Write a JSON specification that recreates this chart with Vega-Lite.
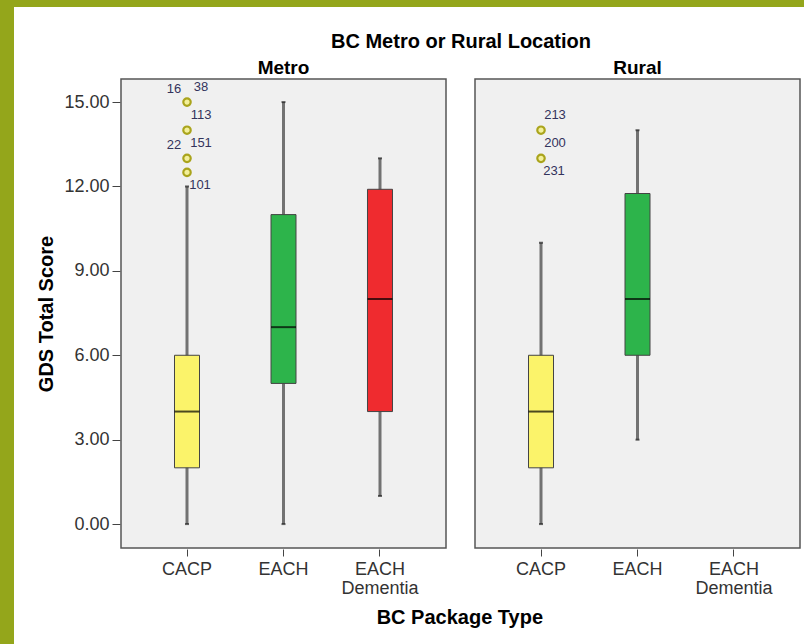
{
  "$schema": "https://vega.github.io/schema/vega-lite/v6.json",
  "background": "white",
  "padding": 0,
  "spacing": 0,
  "config": {
    "font": "Liberation Sans",
    "view": {"fill": "#f0f0f0", "stroke": "#555555", "strokeWidth": 1.5},
    "axis": {"grid": false, "domain": false, "labelFont": "Liberation Sans", "labelFontSize": 18, "labelColor": "#333333", "tickColor": "#444444", "tickSize": 8, "titleFont": "Liberation Sans", "titleFontSize": 20, "titleFontWeight": "bold", "titleColor": "#000000"}
  },
  "hconcat": [
    {"width": 14, "height": 644, "data": {"values": []}, "mark": "point", "encoding": {}, "view": {"fill": "#94a61b", "stroke": null}},
    {
      "spacing": 25,
      "vconcat": [
        {"width": 790, "height": 7, "data": {"values": []}, "mark": "point", "encoding": {}, "view": {"fill": "#94a61b", "stroke": null}},
        {
          "spacing": 21,
          "hconcat": [
            {"width": 1, "height": 1, "data": {"values": []}, "mark": "point", "encoding": {}, "view": {"fill": "#ffffff", "stroke": null}},
            {
              "data": {"values": [
                {"loc": "Metro", "pkg": "CACP", "lower": 0, "q1": 2, "median": 4, "q3": 6, "upper": 12},
                {"loc": "Metro", "pkg": "EACH", "lower": 0, "q1": 5, "median": 7, "q3": 11, "upper": 15},
                {"loc": "Metro", "pkg": "EACH Dementia", "lower": 1, "q1": 4, "median": 8, "q3": 11.9, "upper": 13},
                {"loc": "Rural", "pkg": "CACP", "lower": 0, "q1": 2, "median": 4, "q3": 6, "upper": 10},
                {"loc": "Rural", "pkg": "EACH", "lower": 3, "q1": 6, "median": 8, "q3": 11.75, "upper": 14},
                {"loc": "Metro", "pkg": "CACP", "outlier": 15},
                {"loc": "Metro", "pkg": "CACP", "outlier": 14},
                {"loc": "Metro", "pkg": "CACP", "outlier": 13},
                {"loc": "Metro", "pkg": "CACP", "outlier": 12.5},
                {"loc": "Rural", "pkg": "CACP", "outlier": 14},
                {"loc": "Rural", "pkg": "CACP", "outlier": 13},
                {"loc": "Metro", "pkg": "CACP", "at": 15, "case": "16", "side": "la"},
                {"loc": "Metro", "pkg": "CACP", "at": 15, "case": "38", "side": "ra"},
                {"loc": "Metro", "pkg": "CACP", "at": 14, "case": "113", "side": "ra"},
                {"loc": "Metro", "pkg": "CACP", "at": 13, "case": "22", "side": "la"},
                {"loc": "Metro", "pkg": "CACP", "at": 13, "case": "151", "side": "ra"},
                {"loc": "Metro", "pkg": "CACP", "at": 12.5, "case": "101", "side": "rb"},
                {"loc": "Rural", "pkg": "CACP", "at": 14, "case": "213", "side": "ra"},
                {"loc": "Rural", "pkg": "CACP", "at": 13, "case": "200", "side": "ra"},
                {"loc": "Rural", "pkg": "CACP", "at": 13, "case": "231", "side": "rb"}
              ]},
              "title": {"text": "BC Package Type", "orient": "bottom", "anchor": "middle", "frame": "bounds", "dx": 41, "font": "Liberation Sans", "fontSize": 20, "fontWeight": "bold", "color": "#000000", "offset": 11},
              "facet": {
                "column": {
                  "field": "loc", "type": "nominal",
                  "header": {
                    "title": "BC Metro or Rural Location",
                    "titleFont": "Liberation Sans", "titleFontSize": 20, "titleFontWeight": "bold", "titleColor": "#000000", "titlePadding": -3,
                    "labelFont": "Liberation Sans", "labelFontSize": 19, "labelFontWeight": "bold", "labelColor": "#000000", "labelPadding": 0
                  }
                }
              },
              "spacing": 27,
              "spec": {
                "width": 325,
                "height": 469,
                "layer": [
                  {
                    "transform": [{"filter": "isValid(datum.upper)"}],
                    "mark": {"type": "rule", "color": "#727272", "strokeWidth": 3},
                    "encoding": {
                      "x": {"field": "pkg", "type": "nominal", "scale": {"type": "band", "paddingInner": 0, "paddingOuter": 0.184}, "axis": {"title": null, "labelExpr": "split(datum.label, ' ')", "labelLineHeight": 19, "labelPadding": 4, "tickSize": 7, "labelAngle": 0}},
                      "y": {"field": "lower", "type": "quantitative", "title": "GDS Total Score", "scale": {"domain": [-0.85, 15.82], "nice": false, "zero": false}, "axis": {"values": [0, 3, 6, 9, 12, 15], "format": ".2f", "titlePadding": 7, "labelPadding": 3}},
                      "y2": {"field": "upper"}
                    }
                  },
                  {
                    "transform": [{"filter": "isValid(datum.upper)"}],
                    "mark": {"type": "tick", "size": 4, "thickness": 2, "color": "#222222"},
                    "encoding": {
                      "x": {"field": "pkg", "type": "nominal"},
                      "y": {"field": "upper", "type": "quantitative", "title": "GDS Total Score"}
                    }
                  },
                  {
                    "transform": [{"filter": "isValid(datum.upper)"}],
                    "mark": {"type": "tick", "size": 4, "thickness": 2, "color": "#222222"},
                    "encoding": {
                      "x": {"field": "pkg", "type": "nominal"},
                      "y": {"field": "lower", "type": "quantitative", "title": "GDS Total Score"}
                    }
                  },
                  {
                    "transform": [{"filter": "isValid(datum.upper)"}],
                    "mark": {"type": "bar", "size": 25, "stroke": "#444444", "strokeWidth": 1},
                    "encoding": {
                      "x": {"field": "pkg", "type": "nominal"},
                      "y": {"field": "q1", "type": "quantitative", "title": "GDS Total Score"},
                      "y2": {"field": "q3"},
                      "color": {"field": "pkg", "type": "nominal", "scale": {"domain": ["CACP", "EACH", "EACH Dementia"], "range": ["#fbf36a", "#2db44b", "#ef2b2f"]}, "legend": null}
                    }
                  },
                  {
                    "transform": [{"filter": "isValid(datum.upper)"}],
                    "mark": {"type": "tick", "size": 25, "thickness": 2, "color": "#000000"},
                    "encoding": {
                      "x": {"field": "pkg", "type": "nominal"},
                      "y": {"field": "median", "type": "quantitative", "title": "GDS Total Score"}
                    }
                  },
                  {
                    "transform": [{"filter": "isValid(datum.outlier)"}],
                    "mark": {"type": "point", "shape": "circle", "size": 55, "filled": true, "fill": "#f3f09a", "stroke": "#aaa41c", "strokeWidth": 2.2, "opacity": 1},
                    "encoding": {
                      "x": {"field": "pkg", "type": "nominal"},
                      "y": {"field": "outlier", "type": "quantitative", "title": "GDS Total Score"}
                    }
                  },
                  {
                    "transform": [{"filter": "datum.side == 'la'"}],
                    "mark": {"type": "text", "dx": -13, "dy": -13, "fontSize": 13, "color": "#33335c"},
                    "encoding": {
                      "x": {"field": "pkg", "type": "nominal"},
                      "y": {"field": "at", "type": "quantitative", "title": "GDS Total Score"},
                      "text": {"field": "case"}
                    }
                  },
                  {
                    "transform": [{"filter": "datum.side == 'ra'"}],
                    "mark": {"type": "text", "dx": 14, "dy": -15, "fontSize": 13, "color": "#33335c"},
                    "encoding": {
                      "x": {"field": "pkg", "type": "nominal"},
                      "y": {"field": "at", "type": "quantitative", "title": "GDS Total Score"},
                      "text": {"field": "case"}
                    }
                  },
                  {
                    "transform": [{"filter": "datum.side == 'rb'"}],
                    "mark": {"type": "text", "dx": 13, "dy": 13, "fontSize": 13, "color": "#33335c"},
                    "encoding": {
                      "x": {"field": "pkg", "type": "nominal"},
                      "y": {"field": "at", "type": "quantitative", "title": "GDS Total Score"},
                      "text": {"field": "case"}
                    }
                  }
                ]
              }
            }
          ]
        }
      ]
    }
  ]
}
